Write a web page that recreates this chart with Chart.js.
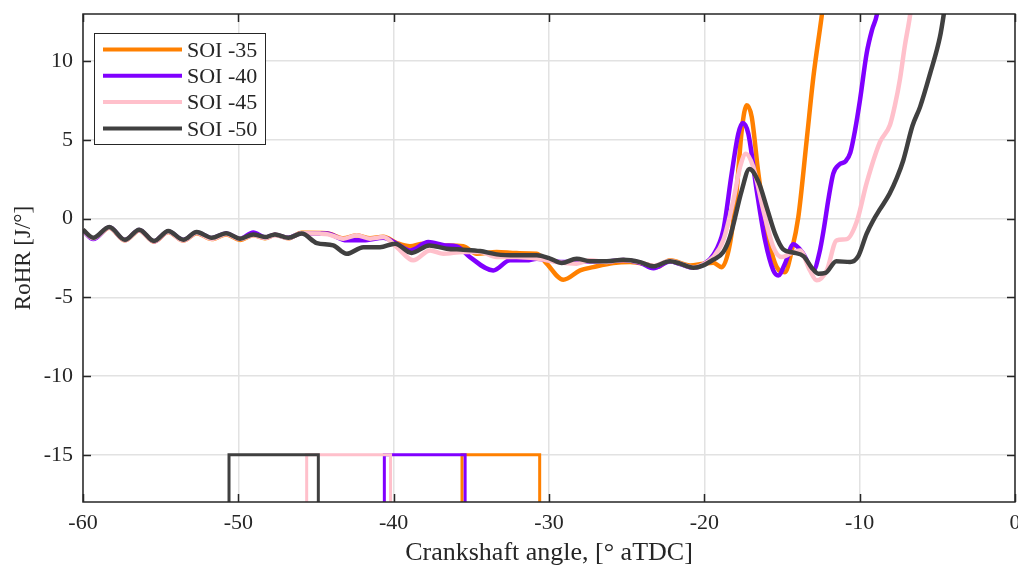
<!DOCTYPE html>
<html><head><meta charset="utf-8">
<script src="https://cdn.jsdelivr.net/npm/chart.js@4/dist/chart.umd.min.js"></script>
<style>html,body{margin:0;padding:0;background:#fff;}#wrap{width:1018px;height:566px;}</style>
</head><body><div id="wrap"><canvas id="c" width="1018" height="566"></canvas></div>
<script>
const seriesNames = ['SOI -35', 'SOI -40', 'SOI -45', 'SOI -50'];
const xTickValues = [-60, -50, -40, -30, -20, -10, 0];
const yTickValues = [-15, -10, -5, 0, 5, 10];

const soi35X = [-60, -59.34, -58.31, -57.30, -56.38, -55.43, -54.51, -53.54, -52.68, -51.71, -50.79, -49.89, -49.04, -48.28, -47.64, -46.78, -45.92, -44.31, -43.24, -42.38, -41.52, -40.67, -39.80, -38.95, -38.09, -36.80, -35.52, -34.65, -33.37, -32.08, -30.79, -30.15, -29.08, -28.0, -27.15, -25.86, -24.78, -23.71, -23.07, -22.21, -20.92, -20.06, -19.42, -18.88, -18.35, -17.92, -17.59, -17.27, -16.95, -16.52, -15.98, -15.34, -14.81, -14.37, -13.95, -13.41, -12.98, -12.44, -12.0];
const soi35Y = [-0.75, -1.27, -0.58, -1.38, -0.75, -1.46, -0.85, -1.40, -0.92, -1.30, -1.00, -1.35, -1.05, -1.25, -1.02, -1.25, -0.90, -0.92, -1.25, -1.05, -1.25, -1.15, -1.55, -1.76, -1.59, -1.70, -1.76, -2.23, -2.12, -2.19, -2.23, -2.86, -3.88, -3.29, -3.08, -2.82, -2.76, -2.91, -3.08, -2.65, -2.97, -2.86, -2.80, -3.08, -1.59, 1.80, 5.62, 7.21, 6.46, 2.86, -0.74, -3.08, -3.40, -2.02, 0.10, 5.0, 9.0, 12.91, 16.5];

const soi40X = [-60, -59.34, -58.31, -57.30, -56.38, -55.43, -54.51, -53.54, -52.68, -51.71, -50.79, -49.89, -49.04, -48.28, -47.64, -46.78, -45.92, -44.31, -43.02, -41.95, -40.67, -39.80, -38.95, -37.77, -36.69, -35.94, -35.09, -33.59, -32.51, -31.44, -30.79, -29.08, -27.36, -26.28, -25.22, -24.14, -23.28, -22.21, -21.56, -20.71, -20.06, -19.42, -18.78, -18.24, -17.81, -17.53, -17.17, -16.63, -16.09, -15.56, -15.24, -14.81, -14.27, -13.63, -12.98, -12.6, -12.3, -12.0, -11.7, -11.3, -10.9, -10.6, -10.3, -9.98, -9.55, -9.2, -8.9, -8.6];
const soi40Y = [-0.75, -1.30, -0.55, -1.36, -0.72, -1.44, -0.82, -1.36, -0.88, -1.24, -0.94, -1.28, -0.88, -1.20, -1.02, -1.22, -0.92, -0.95, -1.38, -1.38, -1.21, -1.59, -2.02, -1.49, -1.70, -1.76, -2.44, -3.29, -2.65, -2.65, -2.54, -2.76, -2.70, -2.72, -2.63, -2.80, -3.15, -2.72, -2.88, -3.12, -2.90, -2.30, -0.74, 2.86, 5.41, 6.08, 5.41, 1.80, -1.38, -3.29, -3.61, -2.86, -1.63, -2.23, -3.29, -2.2, -0.6, 1.3, 2.86, 3.45, 3.65, 4.2, 5.6, 7.53, 10.5, 12.0, 12.93, 15.0];

const soi45X = [-60, -59.34, -58.31, -57.30, -56.38, -55.43, -54.51, -53.54, -52.68, -51.71, -50.79, -49.89, -49.04, -48.28, -47.64, -46.78, -45.92, -44.74, -44.21, -43.24, -42.38, -41.52, -40.67, -39.80, -38.74, -37.66, -36.80, -35.52, -34.44, -33.37, -32.08, -30.79, -29.50, -28.22, -27.36, -26.28, -25.22, -24.14, -23.28, -22.21, -21.56, -20.71, -20.06, -19.42, -18.78, -18.13, -17.70, -17.32, -16.85, -16.20, -15.56, -15.02, -14.48, -13.84, -13.20, -12.77, -12.12, -11.48, -10.83, -10.19, -9.54, -8.69, -8.05, -7.73, -7.40, -7.09, -6.76, -6.5];
const soi45Y = [-0.72, -1.25, -0.56, -1.37, -0.73, -1.45, -0.84, -1.39, -0.90, -1.28, -0.98, -1.30, -1.05, -1.22, -1.05, -1.24, -0.92, -0.95, -1.0, -1.27, -1.06, -1.27, -1.17, -1.81, -2.65, -2.02, -2.23, -2.12, -2.12, -2.44, -2.44, -2.54, -2.76, -2.86, -2.65, -2.75, -2.62, -2.78, -3.0, -2.68, -2.85, -3.1, -2.9, -2.44, -1.38, 1.16, 3.28, 4.13, 3.28, 0.53, -1.81, -2.44, -2.23, -2.02, -3.29, -3.92, -3.29, -1.38, -1.3, -0.2, 2.3, 4.87, 5.95, 7.2, 8.9, 11.0, 12.9, 15.0];

const soi50X = [-60, -59.34, -58.31, -57.30, -56.38, -55.43, -54.51, -53.54, -52.68, -51.71, -50.79, -49.89, -49.04, -48.28, -47.64, -46.78, -45.92, -44.95, -43.89, -43.02, -41.95, -40.88, -39.91, -38.85, -37.7, -36.59, -35.52, -34.44, -33.37, -32.08, -30.79, -29.93, -29.18, -28.22, -27.36, -26.28, -25.22, -24.14, -23.28, -22.21, -21.56, -20.71, -20.06, -19.42, -18.78, -18.35, -17.59, -17.10, -16.5, -15.98, -15.45, -14.92, -14.3, -13.6, -13.1, -12.66, -12.2, -11.5, -10.62, -10.1, -9.55, -9.12, -8.69, -8.07, -7.6, -7.19, -6.6, -6.11, -5.47, -4.83, -4.61, -4.3];
const soi50Y = [-0.70, -1.21, -0.53, -1.34, -0.70, -1.42, -0.79, -1.34, -0.85, -1.21, -0.92, -1.27, -1.00, -1.17, -1.00, -1.21, -0.95, -1.55, -1.70, -2.23, -1.81, -1.81, -1.59, -2.18, -1.70, -1.91, -1.97, -2.06, -2.27, -2.33, -2.33, -2.54, -2.82, -2.54, -2.70, -2.70, -2.61, -2.76, -3.03, -2.70, -2.86, -3.12, -2.97, -2.61, -2.12, -1.17, 1.80, 3.15, 2.3, 0.7, -0.95, -1.95, -2.15, -2.4, -3.1, -3.5, -3.45, -2.7, -2.76, -2.4, -0.95, -0.1, 0.6, 1.59, 2.6, 3.71, 5.9, 7.1, 9.2, 11.55, 12.82, 15.0];

const injStart = [-35.6, -40.6, -45.6, -50.6];
const injEnd = [-30.6, -35.4, -40.2, -44.85];
const injLevel = -15;
const injBase = -18;

const seriesX = [soi35X, soi40X, soi45X, soi50X];
const seriesY = [soi35Y, soi40Y, soi45Y, soi50Y];
const colors = ['#FF8000', '#8000FF', '#FFC0CB', '#404040'];
const FONT = 'Liberation Serif';
const INK = '#262626';

const datasets = [];
seriesNames.forEach((name, i) => {
  datasets.push({
    label: name,
    data: seriesX[i].map((x, k) => ({x: x, y: seriesY[i][k]})),
    borderColor: colors[i], borderWidth: 4.5, fill: false,
    cubicInterpolationMode: 'monotone', pointRadius: 0, clip: 0,
    order: 3 - i
  });
  datasets.push({
    label: name + ' injection',
    data: [{x: injStart[i], y: injBase}, {x: injStart[i], y: injLevel}, {x: injEnd[i], y: injLevel}, {x: injEnd[i], y: injBase}],
    borderColor: colors[i], borderWidth: 3, fill: false, tension: 0, pointRadius: 0, clip: 0,
    borderJoinStyle: 'miter',
    order: 3 - i
  });
});

const framePlugin = {
  id: 'frame',
  afterDraw(chart) {
    const {ctx, chartArea: {left, right, top, bottom}, scales: {x, y}} = chart;
    ctx.save();
    ctx.strokeStyle = INK; ctx.lineWidth = 1.5;
    ctx.strokeRect(left, top, right - left, bottom - top);
    const tl = 8;
    ctx.beginPath();
    xTickValues.forEach(v => {
      const px = Math.round(x.getPixelForValue(v)) + 0.5;
      ctx.moveTo(px, bottom); ctx.lineTo(px, bottom - tl);
      ctx.moveTo(px, top); ctx.lineTo(px, top + tl);
    });
    yTickValues.forEach(v => {
      const py = Math.round(y.getPixelForValue(v)) + 0.5;
      ctx.moveTo(left, py); ctx.lineTo(left + tl, py);
      ctx.moveTo(right, py); ctx.lineTo(right - tl, py);
    });
    ctx.stroke();
    // legend box
    const bx = left + 11, by = top + 19, bw = 171, bh = 111;
    ctx.fillStyle = '#fff';
    ctx.fillRect(bx, by, bw, bh);
    ctx.lineWidth = 1;
    ctx.strokeStyle = INK;
    ctx.strokeRect(bx + 0.5, by + 0.5, bw, bh);
    ctx.font = '22px "' + FONT + '"';
    ctx.textBaseline = 'middle';
    ctx.textAlign = 'left';
    seriesNames.forEach((name, i) => {
      const ry = by + 16.5 + i * 26.3;
      ctx.strokeStyle = colors[i]; ctx.lineWidth = 4; ctx.lineCap = 'butt';
      ctx.beginPath(); ctx.moveTo(bx + 9, ry); ctx.lineTo(bx + 88, ry); ctx.stroke();
      ctx.fillStyle = INK;
      ctx.fillText(name, bx + 93, ry + 1.5);
    });
    ctx.restore();
  }
};

new Chart(document.getElementById('c'), {
  type: 'line',
  data: {datasets: datasets},
  plugins: [framePlugin],
  options: {
    responsive: false, animation: false, devicePixelRatio: 1,
    layout: {padding: {left: 0, right: 3, top: 14, bottom: 0}},
    plugins: {legend: {display: false}, tooltip: {enabled: false}},
    elements: {point: {radius: 0}},
    scales: {
      x: {
        type: 'linear', min: -60, max: 0,
        afterBuildTicks: s => { s.ticks = xTickValues.map(v => ({value: v})); },
        afterFit: s => { s.height = 64; s.paddingLeft = 0; s.paddingRight = 0; s.paddingTop = 0; s.paddingBottom = 0; },
        grid: {color: '#e2e2e2', lineWidth: 1.5, drawTicks: false},
        border: {display: false},
        ticks: {font: {family: FONT, size: 22}, color: INK, padding: 8, maxRotation: 0, autoSkip: false},
        title: {display: true, text: 'Crankshaft angle, [° aTDC]', font: {family: FONT, size: 26, lineHeight: 1.0}, color: INK, padding: {top: 0, bottom: 0}}
      },
      y: {
        type: 'linear', min: -18, max: 13,
        afterBuildTicks: s => { s.ticks = yTickValues.map(v => ({value: v})); },
        afterFit: s => { s.width = 83; s.paddingLeft = 0; s.paddingRight = 0; s.paddingTop = 0; s.paddingBottom = 0; },
        grid: {color: '#e2e2e2', lineWidth: 1.5, drawTicks: false},
        border: {display: false},
        ticks: {font: {family: FONT, size: 22}, color: INK, padding: 10, autoSkip: false},
        title: {display: true, text: 'RoHR [J/°]', font: {family: FONT, size: 23}, color: INK, padding: {top: 10, bottom: 0}}
      }
    }
  }
});
</script></body></html>
